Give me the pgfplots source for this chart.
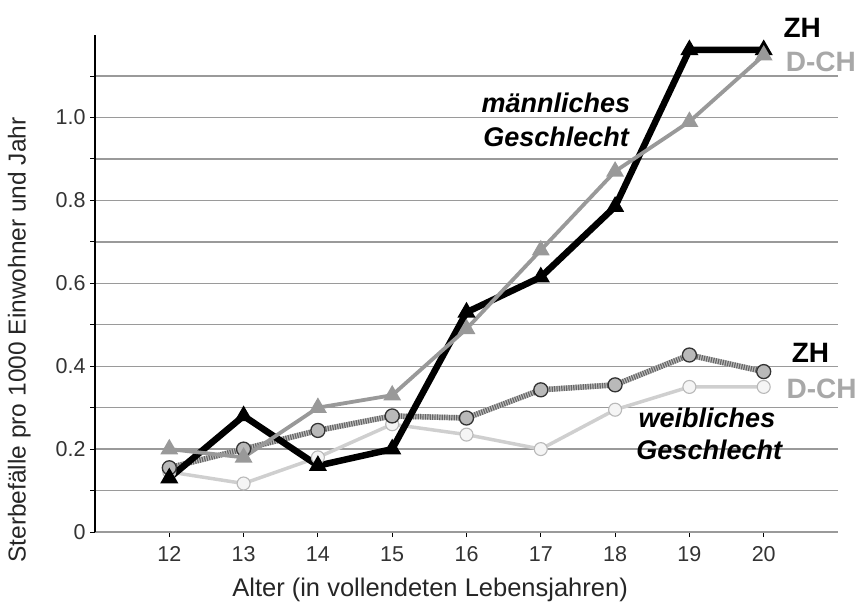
\documentclass[border=0pt]{standalone}
\usepackage{fontspec}
\setmainfont{Liberation Sans}
\usepackage{pgfplots}
\pgfplotsset{compat=1.18}
\definecolor{mgray}{HTML}{999999}
\definecolor{lgray}{HTML}{CFCFCF}
\definecolor{tgray}{HTML}{A8A8A8}
\definecolor{gridc}{HTML}{9A9A9A}
\begin{document}
\begin{tikzpicture}
\path[use as bounding box] (-95pt,-76pt) rectangle (766pt,532pt);
\begin{axis}[
  scale only axis,
  width=743pt, height=497.4pt,
  xmin=11, xmax=21, ymin=0, ymax=1.2,
  axis x line*=bottom, axis y line*=left,
  x axis line style={gridc, line width=2.2pt},
  y axis line style={black, line width=1.8pt},
  xtick={12,...,20},
  xticklabels={12,13,14,15,16,17,18,19,20},
  ytick={0,0.2,0.4,0.6,0.8,1.0},
  yticklabels={0,0.2,0.4,0.6,0.8,1.0},
  minor ytick={0.1,0.3,0.5,0.7,0.9,1.1},
  tick align=outside,
  major tick length=5pt, minor tick length=5pt,
  tick style={black, line width=1pt},
  ymajorgrids, yminorgrids,
  major grid style={gridc, line width=1.4pt},
  minor grid style={gridc, line width=1.4pt},
  ticklabel style={font=\fontsize{21.5}{23}\selectfont, text=black!80},
  xticklabel style={yshift=-6pt},
  yticklabel style={xshift=-1pt},
  xlabel={Alter (in vollendeten Lebensjahren)},
  ylabel={Sterbefälle pro 1000 Einwohner und Jahr},
  every axis x label/.style={at={(axis description cs:0.451,-0.117)}, anchor=center},
  every axis y label/.style={at={(axis description cs:-0.102,0.386)}, rotate=90, anchor=center},
  xlabel style={font=\fontsize{25.5}{27}\selectfont, text=black!85},
  ylabel style={font=\fontsize{24.5}{26}\selectfont, text=black!85},
  clip=false,
]
% female D-CH
\addplot[lgray, line width=3.5pt, mark=*, mark size=6.5pt,
  mark options={draw=gray!55, fill=white!92!gray, line width=1.1pt}]
  coordinates {(12,0.145) (13,0.117) (14,0.18) (15,0.26) (16,0.235) (17,0.20) (18,0.295) (19,0.35) (20,0.35)};
% female ZH (hatched look)
\addplot[gray!50, line width=5.5pt, forget plot]
  coordinates {(12,0.155) (13,0.20) (14,0.245) (15,0.28) (16,0.275) (17,0.343) (18,0.355) (19,0.427) (20,0.387)};
\addplot[black!60, line width=5.5pt, dash pattern=on 1.2pt off 1.2pt, mark=*, mark size=7pt,
  mark options={solid, draw=black!80, fill=gray!55, line width=1.3pt}]
  coordinates {(12,0.155) (13,0.20) (14,0.245) (15,0.28) (16,0.275) (17,0.343) (18,0.355) (19,0.427) (20,0.387)};
% male ZH
\addplot[black, line width=6.5pt, mark=triangle*, mark size=4pt, mark options={fill=black}]
  coordinates {(12,0.13) (13,0.28) (14,0.16) (15,0.20) (16,0.53) (17,0.615) (18,0.785) (19,1.163) (20,1.163)};
% male D-CH
\addplot[mgray, line width=3.8pt, mark=triangle*, mark size=6.5pt, mark options={fill=mgray}]
  coordinates {(12,0.20) (13,0.18) (14,0.30) (15,0.33) (16,0.49) (17,0.68) (18,0.87) (19,0.99) (20,1.15)};
% labels
\node[anchor=base west, font=\fontsize{27}{27}\selectfont\bfseries\itshape] at (axis cs:16.155,1.011) {männliches};
\node[anchor=base west, font=\fontsize{27}{27}\selectfont\bfseries\itshape] at (axis cs:16.18,0.931) {Geschlecht};
\node[anchor=base west, font=\fontsize{27}{27}\selectfont\bfseries\itshape] at (axis cs:18.27,0.251) {weibliches};
\node[anchor=base west, font=\fontsize{27}{27}\selectfont\bfseries\itshape] at (axis cs:18.24,0.174) {Geschlecht};
\node[anchor=base west, font=\fontsize{28}{28}\selectfont\bfseries] at (axis cs:20.22,1.194) {ZH};
\node[anchor=base west, font=\fontsize{28}{28}\selectfont\bfseries, text=tgray] at (axis cs:20.25,1.11) {D-CH};
\node[anchor=base west, font=\fontsize{28}{28}\selectfont\bfseries] at (axis cs:20.33,0.41) {ZH};
\node[anchor=base west, font=\fontsize{28}{28}\selectfont\bfseries, text=tgray] at (axis cs:20.26,0.323) {D-CH};
\end{axis}
\end{tikzpicture}
\end{document}
